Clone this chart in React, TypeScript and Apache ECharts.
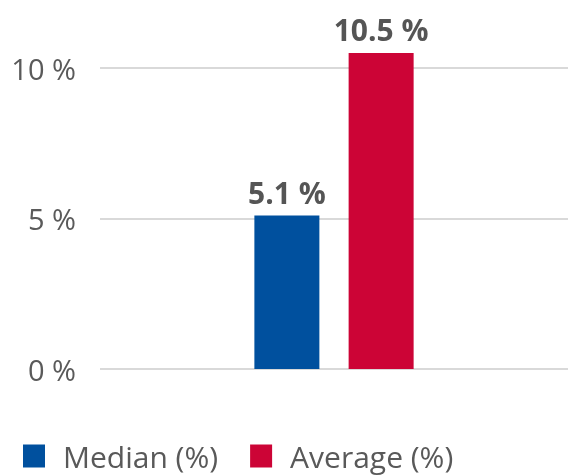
import React, { useEffect, useRef } from "react";
import * as echarts from "echarts";

const categories: string[] = [""];
const seriesNames: string[] = ["Median (%)", "Average (%)"];
const medianValues: number[] = [5.1];
const averageValues: number[] = [10.5];
const seriesColors: string[] = ["#00509e", "#cc0436"];
const yTicks: number[] = [0, 5, 10];

export default function App() {
  const ref = useRef<HTMLDivElement>(null);
  useEffect(() => {
    if (!ref.current) return;
    const chart = echarts.init(ref.current, null, { renderer: "svg" });
    const font = "'Open Sans', sans-serif";
    const dataSets = [medianValues, averageValues];
    chart.setOption({
      animation: false,
      textStyle: { fontFamily: font },
      grid: { left: 100, right: 0, top: 68, bottom: 107, containLabel: false },
      legend: {
        left: 23,
        top: 441,
        padding: 0,
        icon: "rect",
        itemWidth: 22,
        itemHeight: 23,
        itemGap: 32,
        textStyle: {
          fontFamily: font,
          fontSize: 30,
          color: "#595959",
          padding: [0, 0, 0, 13],
        },
        data: seriesNames,
      },
      xAxis: {
        type: "category",
        data: categories,
        axisLine: { show: false },
        axisTick: { show: false },
        axisLabel: { show: false },
      },
      yAxis: {
        type: "value",
        min: yTicks[0],
        max: yTicks[yTicks.length - 1],
        interval: yTicks[1] - yTicks[0],
        axisLine: { show: false },
        axisTick: { show: false },
        axisLabel: {
          formatter: "{value} %",
          fontFamily: font,
          fontSize: 29,
          color: "#5a5a5a",
          margin: 24,
        },
        splitLine: { lineStyle: { color: "#cccccc", width: 1.5 } },
      },
      series: seriesNames.map((name, i) => ({
        name,
        type: "bar",
        data: dataSets[i],
        barWidth: 65,
        barGap: "45%",
        clip: false,
        itemStyle: { color: seriesColors[i] },
        label: {
          show: true,
          position: "top",
          distance: 8,
          formatter: (p: any) => `${p.value} %`,
          fontFamily: font,
          fontSize: 30,
          fontWeight: "bold",
          color: "#555555",
        },
      })),
    });
    return () => chart.dispose();
  }, []);
  return (
    <div
      ref={ref}
      style={{ position: "fixed", left: 0, top: 0, width: 568, height: 476 }}
    />
  );
}
